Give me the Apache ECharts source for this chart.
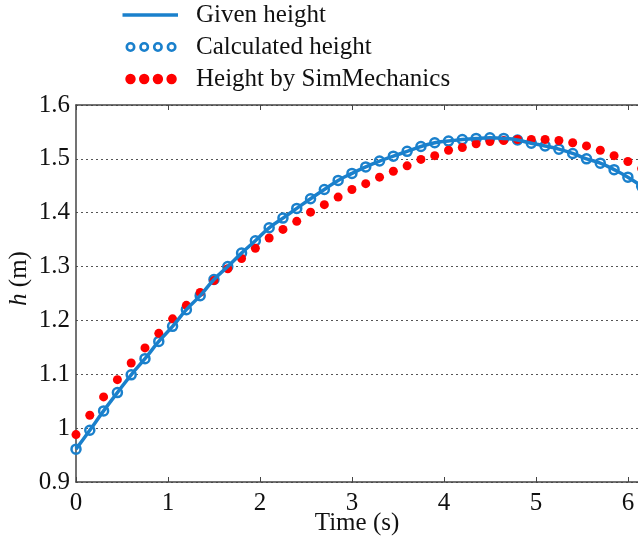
<!DOCTYPE html>
<html>
<head>
<meta charset="utf-8">
<script src="https://cdn.jsdelivr.net/npm/echarts@6/dist/echarts.min.js"></script>
<style>
html,body{margin:0;padding:0;background:#fff;}
#main{width:638px;height:540px;}
</style>
</head>
<body>
<div id="main"></div>
<script>
// time samples (s)
var times = [0,0.15,0.3,0.45,0.6,0.75,0.9,1.05,1.2,1.35,1.5,1.65,1.8,1.95,2.1,2.25,2.4,2.55,2.7,2.85,3.0,
  3.15,3.3,3.45,3.6,3.75,3.9,4.05,4.2,4.35,4.5,4.65,4.8,4.95,5.1,5.25,5.4,5.55,5.7,5.85,6.0,6.15];
// given height (m)
var givenHeight = [0.961,0.996,1.032,1.066,1.099,1.129,1.161,1.189,1.220,1.246,1.276,1.300,1.325,1.348,1.372,1.390,1.408,1.426,1.443,1.460,1.473,
  1.485,1.496,1.505,1.514,1.523,1.530,1.533,1.536,1.538,1.539,1.538,1.535,1.529,1.524,1.518,1.510,1.500,1.492,1.480,1.466,1.449];
// calculated height (m)
var calcHeight = [0.961,0.996,1.032,1.066,1.099,1.129,1.161,1.189,1.220,1.246,1.276,1.300,1.325,1.348,1.372,1.390,1.408,1.426,1.443,1.460,1.473,
  1.485,1.496,1.505,1.514,1.523,1.530,1.533,1.536,1.538,1.539,1.538,1.535,1.529,1.524,1.518,1.510,1.500,1.492,1.480,1.466,1.449];
// height by SimMechanics (m)
var simHeight = [0.988,1.024,1.058,1.090,1.121,1.149,1.176,1.203,1.228,1.252,1.274,1.296,1.315,1.334,1.353,1.369,1.384,1.401,1.415,1.429,1.443,
  1.454,1.466,1.477,1.487,1.499,1.506,1.516,1.521,1.528,1.532,1.534,1.536,1.536,1.536,1.534,1.530,1.524,1.516,1.506,1.495,1.482];

function pairs(ys){
  return times.map(function(t,i){ return [t, ys[i]]; });
}

var blue = '#1a80cc';
var red = '#ff0000';
var serif = "'Liberation Serif','Times New Roman',serif";

// legend icons, drawn in a 56x12 box (the first two moveTo's fix the box)
var iconBox = 'M0 0M56 12';
function circle(cx, r, cw){
  var s = cw ? ' 0 1 1 ' : ' 0 1 0 ';
  return 'M'+(cx-r)+' 6A'+r+' '+r+s+(cx+r)+' 6A'+r+' '+r+s+(cx-r)+' 6Z';
}
var iconX = [8.5, 22.2, 35.9, 49.6];
function ringsIcon(){
  var p = iconBox;
  iconX.forEach(function(cx){ p += circle(cx, 5, false) + circle(cx, 2.4, true); });
  return 'path://' + p;
}
function dotsIcon(){
  var p = iconBox;
  iconX.forEach(function(cx){ p += circle(cx, 5.2, false); });
  return 'path://' + p;
}
var lineIcon = 'path://' + iconBox + 'M0.5 4.2H56V7.8H0.5Z';

var myChart = echarts.init(document.getElementById('main'));
var option = {
  animation: false,
  grid: {left: 76, right: 0, top: 105, bottom: 58, outerBoundsMode: 'none', containLabel: false},
  legend: {
    orient: 'vertical',
    left: 122,
    top: 2,
    padding: 0,
    itemGap: 6,
    itemWidth: 56,
    itemHeight: 12,
    symbolKeepAspect: true,
    textStyle: {fontFamily: serif, fontSize: 25, color: '#111', padding: [0,0,0,13], lineHeight: 26},
    data: [
      {name: 'Given height', icon: lineIcon, itemStyle: {color: blue, borderWidth: 0}},
      {name: 'Calculated height', icon: ringsIcon(), itemStyle: {color: blue, borderWidth: 0}},
      {name: 'Height by SimMechanics', icon: dotsIcon(), itemStyle: {color: red, borderWidth: 0}}
    ]
  },
  xAxis: [{
    type: 'value',
    min: 0,
    max: 6.11,
    interval: 1,
    name: 'Time (s)',
    nameLocation: 'middle',
    nameGap: 29,
    nameMoveOverlap: false,
    nameTextStyle: {fontFamily: serif, fontSize: 25, color: '#111'},
    axisLine: {lineStyle: {color: '#444', width: 1.5}},
    axisTick: {inside: true, length: 5, lineStyle: {color: '#444'}},
    axisLabel: {fontFamily: serif, fontSize: 25, color: '#111', margin: 9, showMaxLabel: false},
    splitLine: {show: false}
  }, {
    type: 'value',
    position: 'top',
    min: 0,
    max: 6.11,
    interval: 1,
    axisLine: {lineStyle: {color: '#444', width: 1.5}},
    axisTick: {inside: true, length: 5, lineStyle: {color: '#444'}},
    axisLabel: {show: false},
    splitLine: {show: false}
  }],
  yAxis: {
    type: 'value',
    min: 0.9,
    max: 1.6,
    interval: 0.1,
    name: '{i|h} (m)',
    nameLocation: 'middle',
    nameRotate: 90,
    nameGap: 44,
    nameMoveOverlap: false,
    nameTextStyle: {
      fontFamily: serif, fontSize: 25, color: '#111', padding: [0, 0, 0, 30],
      rich: {i: {fontFamily: serif, fontSize: 25, fontStyle: 'italic', color: '#111'}}
    },
    axisLine: {show: true, lineStyle: {color: '#444', width: 1.5}},
    axisTick: {show: false},
    axisLabel: {fontFamily: serif, fontSize: 25, color: '#111', margin: 6},
    splitLine: {show: true, lineStyle: {color: '#555', type: [2, 3], width: 1.2}}
  },
  series: [
    {
      name: 'Given height',
      type: 'line',
      smooth: true,
      showSymbol: false,
      data: pairs(givenHeight),
      lineStyle: {color: blue, width: 3.5},
      itemStyle: {color: blue}
    },
    {
      name: 'Calculated height',
      type: 'scatter',
      symbol: 'circle',
      symbolSize: 9,
      clip: false,
      data: pairs(calcHeight),
      itemStyle: {color: 'rgba(0,0,0,0)', borderColor: blue, borderWidth: 2.5, opacity: 1}
    },
    {
      name: 'Height by SimMechanics',
      type: 'scatter',
      symbol: 'circle',
      symbolSize: 9,
      clip: false,
      data: pairs(simHeight),
      itemStyle: {color: red, opacity: 1}
    }
  ]
};
myChart.setOption(option);

window.onresize = function(){
  myChart.resize();
};
</script>
</body>
</html>
